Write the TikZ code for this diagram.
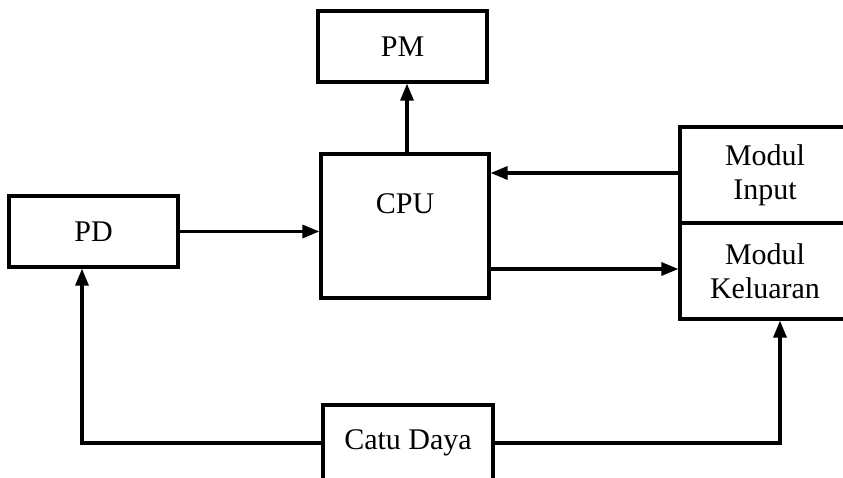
\documentclass[tikz,border=0pt]{standalone}
\usepackage{fontspec}
\setmainfont{Liberation Serif}
\usetikzlibrary{arrows.meta}

\begin{document}
\begin{tikzpicture}[x=1pt,y=-1pt,>={Triangle[length=17pt,width=13pt]},
  blk/.style={draw,line width=3.2pt,align=center,inner sep=0pt,
    font=\fontsize{30}{34}\selectfont},
  wire/.style={line width=3.2pt}]
  \useasboundingbox (0,0) rectangle (843,478);
  \node[blk,minimum width=169pt,minimum height=71pt] (pm) at (402.5,46.5) {PM};
  \node[blk,minimum width=168pt,minimum height=144pt,
    label={[anchor=north,yshift=-38pt,font=\fontsize{30}{34}\selectfont]north:CPU}] (cpu) at (405,226) {};
  \node[blk,minimum width=169pt,minimum height=71pt] (pd) at (93.5,231.5) {PD};
  \node[blk,minimum width=170pt,minimum height=96pt] (inp) at (765,175) {Modul\\Input};
  \node[blk,minimum width=170pt,minimum height=96pt] (out) at (765,271) {Modul\\Keluaran};
  \node[blk,minimum width=170pt,minimum height=76pt] (catu) at (408,443) {Catu Daya};
  \draw[wire,->] ([xshift=2pt]cpu.north) -- ([xshift=2pt]cpu.north |- pm.south);
  \draw[wire,->] (pd.east) -- (pd.east -| cpu.west);
  \draw[wire,->] ([yshift=2pt]inp.west) -- ([yshift=2pt]inp.west -| cpu.east);
  \draw[wire,->] ([yshift=2pt]out.west -| cpu.east) -- ([yshift=2pt]out.west);
  \draw[wire,->] (catu.west) -| ([xshift=-11.5pt]pd.south);
  \draw[wire,->] (catu.east) -| ([xshift=15pt]out.south);
\end{tikzpicture}
\end{document}
